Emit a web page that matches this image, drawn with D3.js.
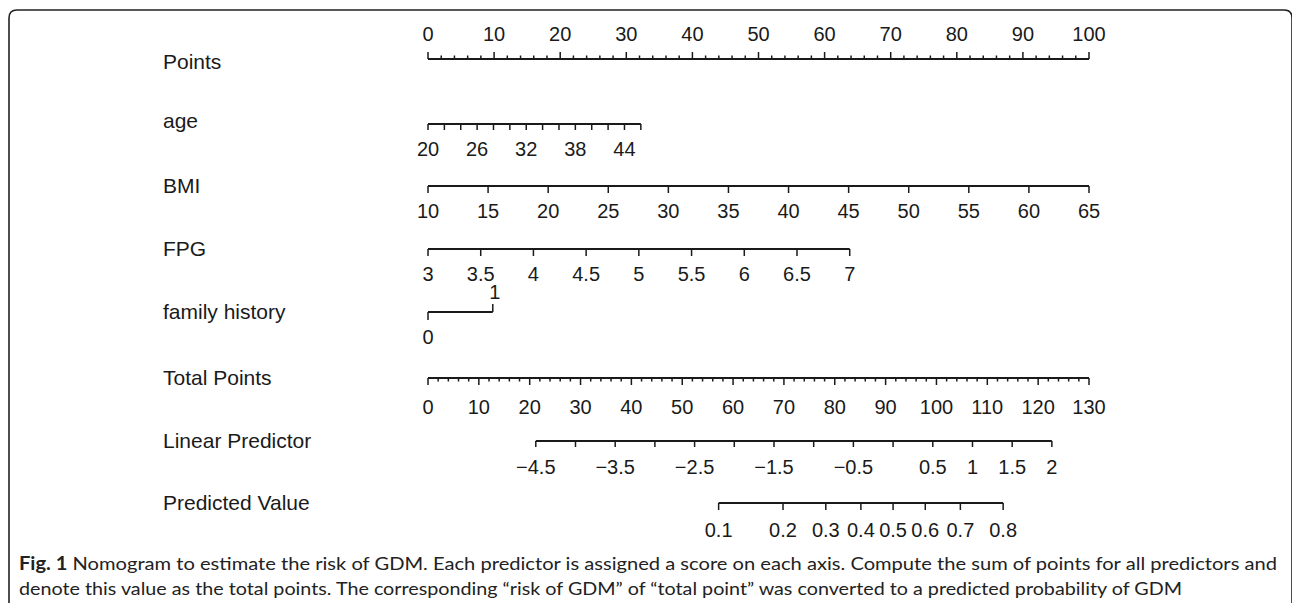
<!DOCTYPE html>
<html><head><meta charset="utf-8">
<script src="https://cdn.jsdelivr.net/npm/d3@7"></script>
<style>
html,body{margin:0;padding:0;background:#fff;}
svg{display:block;}
</style></head>
<body>
<svg id="chart" width="1292" height="603"></svg>
<script>
// ---- data ----
const rowTitles = ["Points","age","BMI","FPG","family history","Total Points","Linear Predictor","Predicted Value"];
const pointsMajor = [0,10,20,30,40,50,60,70,80,90,100];
const pointsMinor = [0,2,4,6,8,10,12,14,16,18,20,22,24,26,28,30,32,34,36,38,40,42,44,46,48,50,52,54,56,58,60,62,64,66,68,70,72,74,76,78,80,82,84,86,88,90,92,94,96,98,100];
const ageTicks = [20,22,24,26,28,30,32,34,36,38,40,42,44,46];
const ageLabels = [20,26,32,38,44];
const ageRange = [20,46], agePoints = [0,32.2];
const bmiTicks = [10,15,20,25,30,35,40,45,50,55,60,65];
const bmiRange = [10,65], bmiPoints = [0,100];
const fpgTicks = [3,3.5,4,4.5,5,5.5,6,6.5,7];
const fpgRange = [3,7], fpgPoints = [0,63.8];
const famTicks = [0,1];
const famPoints = [0,9.8];
const totalMajor = [0,10,20,30,40,50,60,70,80,90,100,110,120,130];
const totalMinor = [0,2,4,6,8,10,12,14,16,18,20,22,24,26,28,30,32,34,36,38,40,42,44,46,48,50,52,54,56,58,60,62,64,66,68,70,72,74,76,78,80,82,84,86,88,90,92,94,96,98,100,102,104,106,108,110,112,114,116,118,120,122,124,126,128,130];
const lpTicks = [-4.5,-4,-3.5,-3,-2.5,-2,-1.5,-1,-0.5,0,0.5,1,1.5,2];
const lpLabels = [-4.5,-3.5,-2.5,-1.5,-0.5,0.5,1,1.5,2];
const lpTotalRange = [21.2,122.7]; // total points at LP -4.5 and 2
const pvTicks = [0.1,0.2,0.3,0.4,0.5,0.6,0.7,0.8];
const captionBold = "Fig. 1";
const captionLine1 = " Nomogram to estimate the risk of GDM. Each predictor is assigned a score on each axis. Compute the sum of points for all predictors and";
const captionLine2 = "denote this value as the total points. The corresponding \u201crisk of GDM\u201d of \u201ctotal point\u201d was converted to a predicted probability of GDM";

// ---- layout ----
const X0 = 428, X1 = 1089;
const rowY = [59,124,186,249,312,378,441,503];
const titleY = [61,120,185,248,311,377,440,502];
const ink = "#1a1a1a";
const tickFont = "20px 'Liberation Sans', Arial, sans-serif";
const titleFont = "21px 'Liberation Sans', Arial, sans-serif";
const fmt = v => (v < 0 ? "\u2212" + String(-v) : String(v));

const svg = d3.select("#chart");

// border frame
svg.append("path")
  .attr("d", "M9,603 L9,18 Q9,10 17,10 L1284,10 Q1292,10 1292,18 L1292,603")
  .attr("fill","none").attr("stroke","#222").attr("stroke-width",1.6);

// titles
svg.selectAll("text.title").data(rowTitles).join("text")
  .attr("class","title")
  .attr("x",163).attr("y",(d,i)=>titleY[i])
  .attr("dominant-baseline","central")
  .style("font",titleFont).attr("fill",ink)
  .text(d=>d);

const ptScale = d3.scaleLinear().domain([0,100]).range([X0,X1]);

function drawAxis(y, scale, ticks, tickLen, dir, opts={}) {
  const g = svg.append("g");
  const ext = d3.extent(ticks);
  g.append("line").attr("x1",scale(ext[0])).attr("x2",scale(ext[1]))
    .attr("y1",y).attr("y2",y).attr("stroke",ink).attr("stroke-width",2);
  g.selectAll("line.t").data(ticks).join("line").attr("class","t")
    .attr("x1",d=>scale(d)).attr("x2",d=>scale(d))
    .attr("y1",y).attr("y2",d=>y + dir*(typeof tickLen==="function"?tickLen(d):tickLen))
    .attr("stroke",ink).attr("stroke-width",1.5);
  const labels = opts.labels || ticks;
  g.selectAll("text").data(labels).join("text")
    .attr("x",d=>scale(d)).attr("y", y + dir*(opts.labelOff||25))
    .attr("text-anchor","middle").attr("dominant-baseline","central")
    .style("font",tickFont).attr("fill",ink)
    .text(d=>fmt(d));
  return g;
}

// Points
drawAxis(rowY[0], ptScale, pointsMinor, d => (pointsMajor.includes(d) ? 7 : 3.5), -1, {labels: pointsMajor, labelOff: 25});

// age
const ageScale = d3.scaleLinear().domain(ageRange).range(agePoints.map(ptScale));
drawAxis(rowY[1], ageScale, ageTicks, 6, 1, {labels: ageLabels, labelOff: 25});

// BMI
const bmiScale = d3.scaleLinear().domain(bmiRange).range(bmiPoints.map(ptScale));
drawAxis(rowY[2], bmiScale, bmiTicks, 7, 1, {labelOff: 25});

// FPG
const fpgScale = d3.scaleLinear().domain(fpgRange).range(fpgPoints.map(ptScale));
drawAxis(rowY[3], fpgScale, fpgTicks, 7, 1, {labelOff: 25});

// family history: 0 below, 1 above
(function(){
  const sc = d3.scaleLinear().domain([0,1]).range(famPoints.map(ptScale));
  const y = rowY[4];
  const g = svg.append("g");
  g.append("line").attr("x1",sc(0)).attr("x2",sc(1)).attr("y1",y).attr("y2",y)
    .attr("stroke",ink).attr("stroke-width",2);
  g.selectAll("line.t").data(famTicks).join("line").attr("class","t")
    .attr("x1",d=>sc(d)).attr("x2",d=>sc(d))
    .attr("y1",y).attr("y2",d=> d===0 ? y+8 : y-8)
    .attr("stroke",ink).attr("stroke-width",1.5);
  g.selectAll("text").data(famTicks).join("text")
    .attr("x",d=>sc(d)+(d===1?2:0)).attr("y",d=> d===0 ? y+25 : y-20)
    .attr("text-anchor","middle").attr("dominant-baseline","central")
    .style("font",tickFont).attr("fill",ink).text(d=>fmt(d));
})();

// Total points
const totScale = d3.scaleLinear().domain([0,130]).range([X0,X1]);
drawAxis(rowY[5], totScale, totalMinor, d => (totalMajor.includes(d) ? 7 : 3.5), 1, {labels: totalMajor, labelOff: 29});

// Linear predictor
const lpScale = d3.scaleLinear().domain([-4.5,2]).range(lpTotalRange.map(totScale));
drawAxis(rowY[6], lpScale, lpTicks, 6, 1, {labels: lpLabels, labelOff: 26});

// Predicted value (probability -> logit -> linear predictor)
const pvScale = p => lpScale(Math.log(p/(1-p)));
drawAxis(rowY[7], pvScale, pvTicks, 7, 1, {labelOff: 27});

// caption
const cap = svg.append("g").style("font","18px Lato, sans-serif").attr("fill","#222");
const t1 = cap.append("text").attr("x",19).attr("y",570).attr("textLength",1258).attr("lengthAdjust","spacingAndGlyphs");
t1.append("tspan").style("font-weight","bold").text(captionBold);
t1.append("tspan").text(captionLine1);
cap.append("text").attr("x",19).attr("y",595).attr("textLength",1163).attr("lengthAdjust","spacingAndGlyphs").text(captionLine2);
</script>
</body></html>
